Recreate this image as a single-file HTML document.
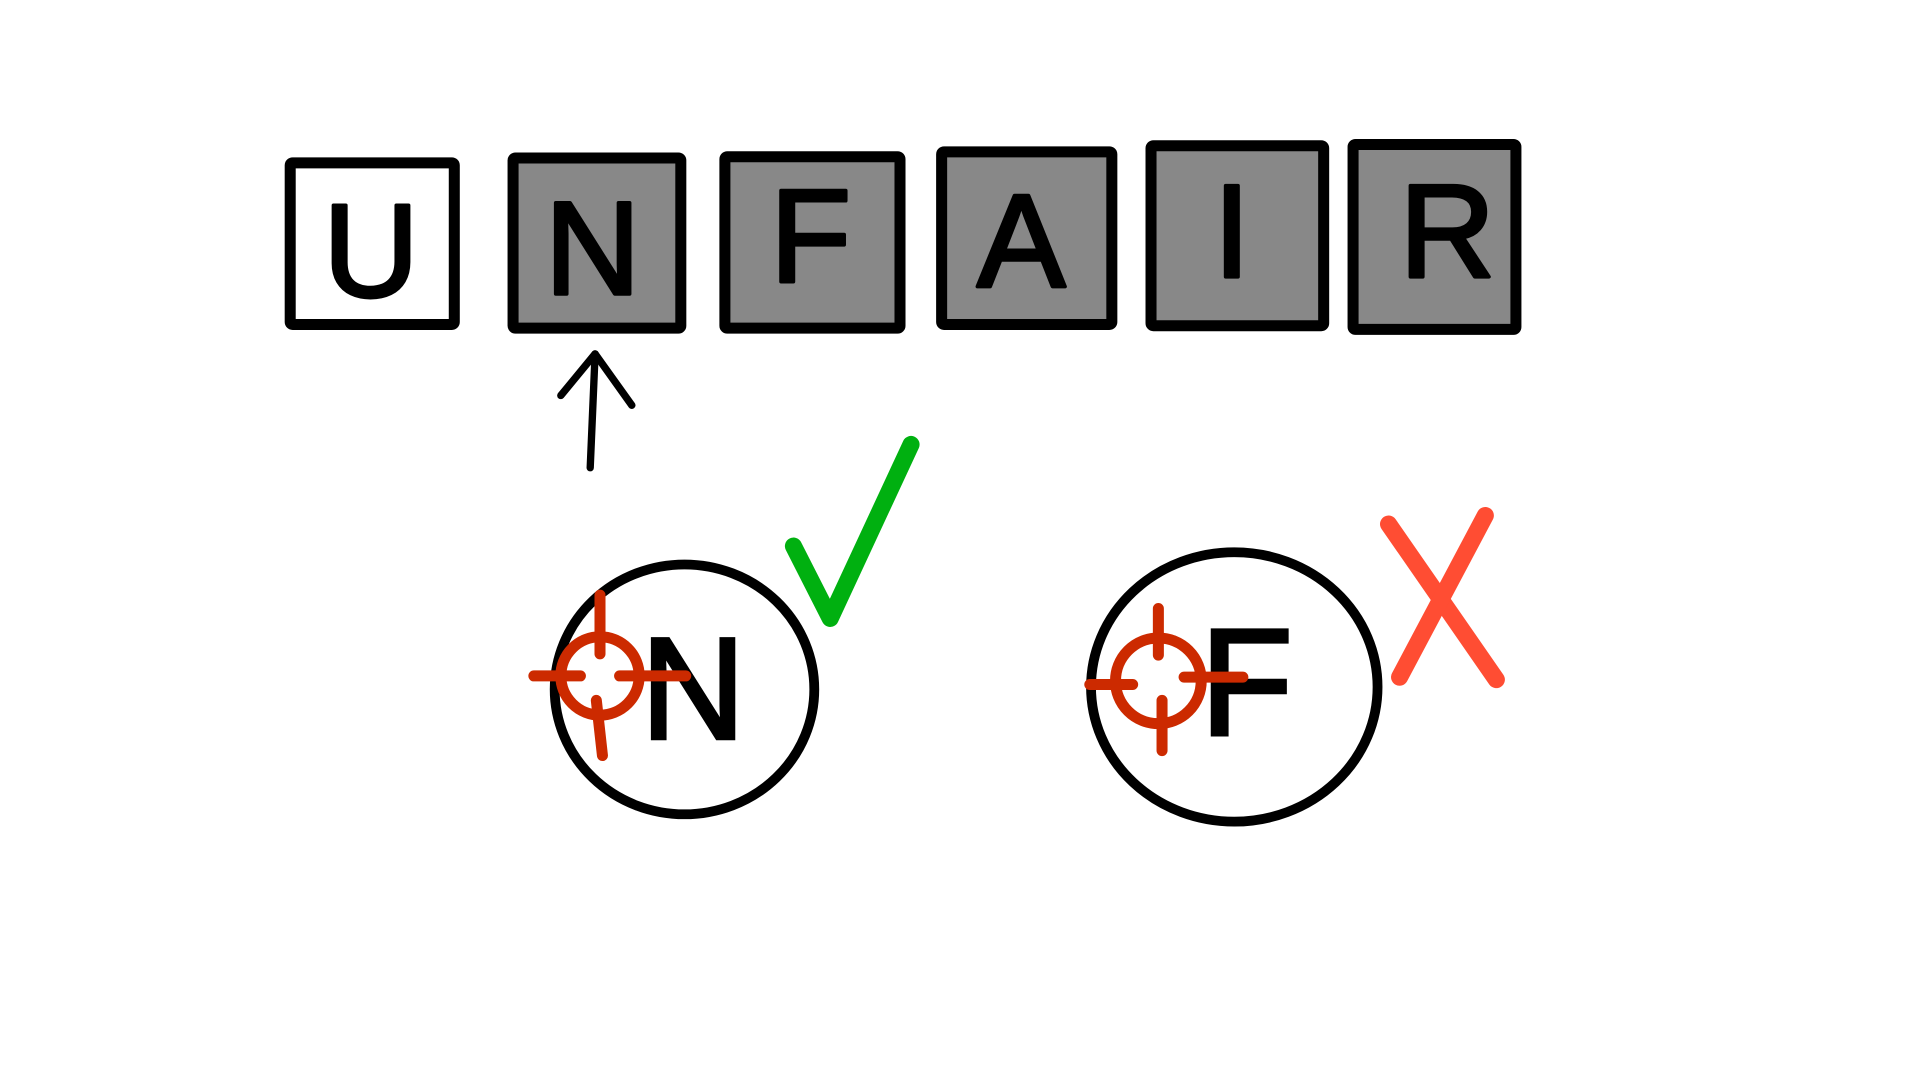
<!DOCTYPE html>
<html><head><meta charset="utf-8"><style>
html,body{margin:0;padding:0;background:#fff;width:1920px;height:1080px;overflow:hidden}
svg{display:block}
text{font-family:"Liberation Sans",sans-serif}
</style></head><body>
<svg width="1920" height="1080" viewBox="0 0 1568 882" preserveAspectRatio="none" xmlns="http://www.w3.org/2000/svg">
<g stroke="#000" stroke-width="9" stroke-linejoin="round" fill="#888">
<rect x="237" y="133" width="134" height="132" rx="2" fill="#fff"/>
<rect x="419" y="129" width="137" height="139" rx="2"/>
<rect x="592" y="128" width="143" height="140" rx="2"/>
<rect x="769" y="124" width="139" height="141" rx="2"/>
<rect x="940" y="119" width="141" height="147" rx="2"/>
<rect x="1105" y="118" width="133" height="151" rx="2"/>
</g>
<g fill="#000" stroke="#000" stroke-width="3" stroke-linejoin="round" font-size="108" text-anchor="middle">
<text x="303" y="242">U</text>
<text x="484" y="240">N</text>
<text x="662" y="230">F</text>
<text x="834" y="234">A</text>
<text x="1006" y="226">I</text>
<text x="1182" y="226">R</text>
</g>
<g stroke="#000" stroke-width="6" fill="none" stroke-linecap="round" stroke-linejoin="round">
<path d="M482 382 L486 289"/><path d="M458 323 L486 289 L516 331"/>
</g>
<ellipse cx="559" cy="563" rx="106" ry="102" fill="none" stroke="#000" stroke-width="8"/>
<ellipse cx="1008" cy="561" rx="117" ry="110" fill="none" stroke="#000" stroke-width="8"/>
<text x="566" y="603" font-size="118" text-anchor="middle" fill="#000" stroke="#000" stroke-width="3">N</text>
<text x="1018" y="600" font-size="124" text-anchor="middle" fill="#000" stroke="#000" stroke-width="3">F</text>
<g stroke="#cc2a00" stroke-width="9" fill="none" stroke-linecap="round">
<circle cx="490" cy="552" r="32"/>
<path d="M436 552 H474 M506 552 H560 M490 486 V534 M487 572 L492 617"/>
</g>
<g stroke="#cc2a00" stroke-width="9" fill="none" stroke-linecap="round">
<circle cx="946" cy="556" r="35"/>
<path d="M890 559 H925 M967 553 H1015 M946 497 V535 M949 572 V613"/>
</g>
<path d="M648 446 L678 505 L744 363" stroke="#00b010" stroke-width="14" fill="none" stroke-linecap="round" stroke-linejoin="round"/>
<g stroke="#ff4d33" stroke-width="14" fill="none" stroke-linecap="round">
<path d="M1134 428 L1222 555"/><path d="M1213 421 L1143 553"/>
</g>
</svg>
</body></html>
